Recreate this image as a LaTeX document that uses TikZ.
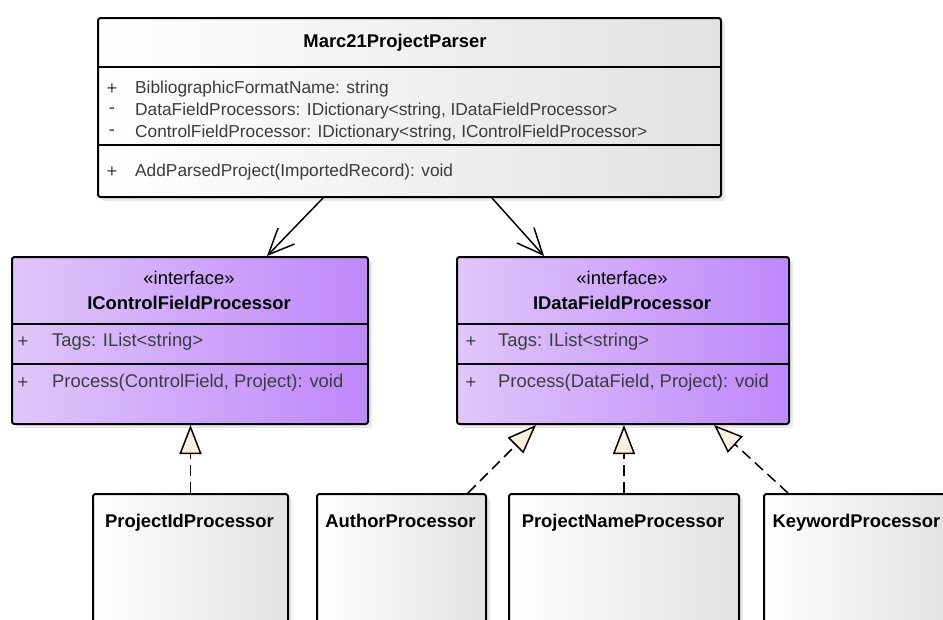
\documentclass[tikz,border=0pt]{standalone}
\usepackage{fontspec}
\setmainfont{Liberation Sans}
\usepackage{tikz}
\usepackage{xcolor}
\usetikzlibrary{arrows.meta,shadows}
\definecolor{ifaceleft}{RGB}{224,198,250}
\definecolor{ifaceright}{RGB}{190,136,250}
\definecolor{classright}{RGB}{226,226,226}
\definecolor{realfill}{RGB}{250,240,226}
\definecolor{membertext}{RGB}{60,60,60}

\begin{document}
\begin{tikzpicture}[x=1pt, y=-1pt,
    every node/.style={font=\fontsize{18.4pt}{22pt}\selectfont},
    classbox/.style={draw, line width=2pt, rounded corners=2.5pt, inner sep=0pt,
        anchor=north west, left color=white, right color=classright,
        drop shadow={shadow xshift=4pt, shadow yshift=-4pt, fill=black!17}},
    ifacebox/.style={classbox, left color=ifaceleft, right color=ifaceright},
    classname/.style={font=\fontsize{18.4pt}{22pt}\selectfont\bfseries},
    member/.style={anchor=west, text=membertext, inner sep=0pt},
    smallmember/.style={member, font=\fontsize{17.3pt}{22pt}\selectfont},
    visib/.style={text=membertext, inner sep=0pt},
    sepline/.style={line width=1.5pt},
    assoc/.style={line width=1.5pt, -{Straight Barb[length=26pt, width=23pt]}},
    realize/.style={line width=1.5pt, dash pattern=on 11pt off 6pt,
        -{Triangle[fill=realfill, length=29pt, width=22pt]}}]
    \path[use as bounding box] (0,0) rectangle (943,619);
    \clip (0,0) rectangle (943,619);

    % Klasse oben
    \node[classbox, minimum width=623pt, minimum height=179pt] (parser) at (97,17) {};
    \draw[sepline] ([yshift=-50pt]parser.north west) -- ([yshift=-50pt]parser.north east);
    \draw[sepline] ([yshift=-128pt]parser.north west) -- ([yshift=-128pt]parser.north east);
    \node[classname] (parsername) at (395,43) {Marc21ProjectParser};
    \node[visib] (pv1) at (112,89) {+};
    \node[visib] (pv2) at (112,111) {-};
    \node[visib] (pv3) at (112,133) {-};
    \node[visib] (pv4) at (112,172) {+};
    \node[smallmember] (pa1) at (135,89) {BibliographicFormatName: string};
    \node[smallmember] (pa2) at (135,111) {DataFieldProcessors: IDictionary<string, IDataFieldProcessor>};
    \node[smallmember] (pa3) at (135,133) {ControlFieldProcessor: IDictionary<string, IControlFieldProcessor>};
    \node[smallmember] (pm1) at (135,172) {AddParsedProject(ImportedRecord): void};

    % Interfaces
    \node[ifacebox, minimum width=356pt, minimum height=167pt] (icfp) at (11,256) {};
    \node[ifacebox, minimum width=332pt, minimum height=167pt] (idfp) at (456,256) {};
    \foreach \b in {icfp, idfp} {
        \draw[sepline] ([yshift=-68pt]\b.north west) -- ([yshift=-68pt]\b.north east);
        \draw[sepline] ([yshift=-108pt]\b.north west) -- ([yshift=-108pt]\b.north east);
    }
    \node (icfpstereo) at (189,278) {«interface»};
    \node[classname] (icfpname) at (189,303) {IControlFieldProcessor};
    \node[visib] (iv1) at (23,342) {+};
    \node[visib] (iv2) at (23,383) {+};
    \node[member] (ia1) at (52,342) {Tags: IList<string>};
    \node[member] (im1) at (52,383) {Process(ControlField, Project): void};

    \node (idfpstereo) at (622,278) {«interface»};
    \node[classname] (idfpname) at (622,303) {IDataFieldProcessor};
    \node[visib] (dv1) at (471,342) {+};
    \node[visib] (dv2) at (471,383) {+};
    \node[member] (da1) at (498,342) {Tags: IList<string>};
    \node[member] (dm1) at (498,383) {Process(DataField, Project): void};

    % Implementierungen
    \node[classbox, minimum width=195pt, minimum height=180pt] (pidp) at (92,493) {};
    \node[classbox, minimum width=169pt, minimum height=180pt] (authp) at (316,493) {};
    \node[classbox, minimum width=230pt, minimum height=180pt] (pnamep) at (508,493) {};
    \node[classbox, minimum width=187pt, minimum height=180pt] (keyp) at (763,493) {};
    \node[classname, anchor=base] (pidpname) at (189.5,527.5) {ProjectIdProcessor};
    \node[classname, anchor=base] (authpname) at (400.5,527.5) {AuthorProcessor};
    \node[classname, anchor=base] (pnamepname) at (623,527.5) {ProjectNameProcessor};
    \node[classname, anchor=base] (keypname) at (856.5,527.5) {KeywordProcessor};

    % Assoziationen
    \draw[assoc] ([xshift=-86.5pt]parser.south) -- ([xshift=77pt]icfp.north);
    \draw[assoc] ([xshift=82.5pt]parser.south) -- ([xshift=-79pt]idfp.north);

    % Realisierungen
    \draw[realize] (pidp.north) -- (pidp.north |- icfp.south);
    \draw[realize] ([xshift=66.5pt]authp.north) -- ([xshift=-87pt]idfp.south);
    \draw[realize] (pnamep.north) -- (pnamep.north |- idfp.south);
    \draw[realize] ([xshift=-69.5pt]keyp.north) -- ([xshift=91pt]idfp.south);
\end{tikzpicture}
\end{document}
